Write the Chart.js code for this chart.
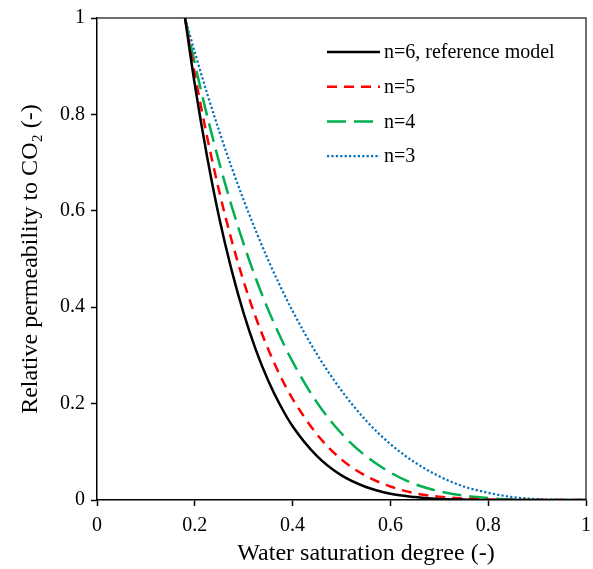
<!DOCTYPE html>
<html>
<head>
<meta charset="utf-8">
<script src="https://cdn.jsdelivr.net/npm/chart.js@4"></script>
<style>
  html, body { margin: 0; padding: 0; background: #ffffff; }
  #wrap { width: 593px; height: 569px; }
</style>
</head>
<body>
<div id="wrap"><canvas id="krChart" width="593" height="569"></canvas></div>
<script>
// Water saturation degree (-)
const saturation = [0.18, 0.2, 0.225, 0.25, 0.275, 0.3, 0.325, 0.35, 0.375, 0.4, 0.45, 0.5, 0.55, 0.6, 0.65, 0.7, 0.75, 0.8, 0.85, 0.9, 0.95, 1.0];

// Relative permeability to CO2
const krN6 = [1, 0.862, 0.713, 0.585, 0.478, 0.387, 0.311, 0.248, 0.196, 0.153, 0.091, 0.051, 0.027, 0.013, 0.006, 0.002, 0.001, 0, 0, 0, 0, 0];
const krN5 = [1, 0.884, 0.754, 0.640, 0.540, 0.453, 0.378, 0.313, 0.257, 0.210, 0.136, 0.084, 0.050, 0.028, 0.014, 0.007, 0.003, 0.001, 0, 0, 0, 0];
const krN4 = [1, 0.906, 0.798, 0.700, 0.611, 0.531, 0.459, 0.395, 0.338, 0.287, 0.202, 0.138, 0.091, 0.057, 0.033, 0.018, 0.009, 0.004, 0.001, 0, 0, 0];
const krN3 = [1, 0.929, 0.844, 0.765, 0.691, 0.622, 0.558, 0.498, 0.443, 0.392, 0.302, 0.227, 0.165, 0.116, 0.078, 0.049, 0.028, 0.015, 0.006, 0.002, 0, 0];

const seriesLabels = ['n=6, reference model', 'n=5', 'n=4', 'n=3'];
const xTicks = [0, 0.2, 0.4, 0.6, 0.8, 1];
const yTicks = [0, 0.2, 0.4, 0.6, 0.8, 1];
const xTitle = 'Water saturation degree (-)';
const yTitle = 'Relative permeability to CO₂ (-)';

const serif = "'Liberation Serif', 'Times New Roman', serif";
const toPoints = (ys) => saturation.map((x, i) => ({ x: x, y: ys[i] }));

// Legend drawn inside the plot area, top right
const insideLegend = {
    id: 'insideLegend',
    afterDatasetsDraw(chart) {
        const ctx = chart.ctx;
        const area = chart.chartArea;
        const x0 = area.left + 230;
        const x1 = x0 + 53;
        ctx.save();
        ctx.font = '20px ' + serif;
        ctx.textBaseline = 'middle';
        ctx.fillStyle = '#000000';
        chart.data.datasets.forEach((ds, i) => {
            const y = area.top + 34 + i * 34.7;
            ctx.beginPath();
            ctx.strokeStyle = ds.borderColor;
            ctx.lineWidth = ds.borderWidth;
            ctx.setLineDash(ds.borderDash || []);
            ctx.moveTo(x0, y);
            ctx.lineTo(x1, y);
            ctx.stroke();
            ctx.setLineDash([]);
            ctx.fillText(ds.label, x1 + 4, y + 1);
        });
        ctx.restore();
    }
};

// Top and right frame of the plot area, plus the x title (sits right of centre in the original)
const plotFrame = {
    id: 'plotFrame',
    beforeDatasetsDraw(chart) {
        const ctx = chart.ctx;
        const a = chart.chartArea;
        ctx.save();
        ctx.strokeStyle = '#404040';
        ctx.lineWidth = 1.5;
        ctx.beginPath();
        ctx.moveTo(a.left, a.top);
        ctx.lineTo(a.right, a.top);
        ctx.lineTo(a.right, a.bottom);
        ctx.stroke();

        ctx.fillStyle = '#000000';
        ctx.font = '24px ' + serif;
        ctx.textAlign = 'center';
        ctx.textBaseline = 'middle';
        ctx.fillText(xTitle, a.left + 269, a.bottom + 54);
        ctx.restore();
    }
};

new Chart(document.getElementById('krChart'), {
    type: 'line',
    data: {
        datasets: [
            {
                label: seriesLabels[0],
                data: toPoints(krN6),
                borderColor: '#000000',
                borderWidth: 2.5,
            },
            {
                label: seriesLabels[1],
                data: toPoints(krN5),
                borderColor: '#ff0000',
                borderWidth: 2.5,
                borderDash: [10, 7],
            },
            {
                label: seriesLabels[2],
                data: toPoints(krN4),
                borderColor: '#00b050',
                borderWidth: 2.5,
                borderDash: [19, 8],
            },
            {
                label: seriesLabels[3],
                data: toPoints(krN3),
                borderColor: '#0070c0',
                borderWidth: 2.2,
                borderDash: [2.2, 2.2],
            },
        ]
    },
    options: {
        responsive: false,
        animation: false,
        events: [],
        layout: { padding: { left: 0, top: 18, right: 7, bottom: 0 } },
        elements: {
            point: { radius: 0 },
            line: { cubicInterpolationMode: 'monotone', fill: false }
        },
        plugins: {
            legend: { display: false },
            tooltip: { enabled: false }
        },
        scales: {
            x: {
                type: 'linear',
                min: 0,
                max: 1,
                afterBuildTicks: (scale) => { scale.ticks = xTicks.map(v => ({ value: v })); },
                afterFit: (scale) => {
                    scale.height = 69;
                    scale.paddingLeft = 0;
                    scale.paddingRight = 0;
                },
                grid: { drawOnChartArea: false, tickLength: 6, tickColor: '#000000', tickWidth: 1.5 },
                border: { color: '#000000', width: 1.5 },
                ticks: {
                    color: '#000000',
                    font: { family: serif, size: 20 },
                    padding: 8,
                    maxRotation: 0,
                    callback: (v) => String(v)
                },
                title: { display: false }
            },
            y: {
                type: 'linear',
                min: 0,
                max: 1,
                afterBuildTicks: (scale) => { scale.ticks = yTicks.map(v => ({ value: v })); },
                afterFit: (scale) => {
                    scale.width = 97;
                    scale.paddingTop = 0;
                    scale.paddingBottom = 0;
                },
                grid: { drawOnChartArea: false, tickLength: 6, tickColor: '#000000', tickWidth: 1.5 },
                border: { color: '#000000', width: 1.5 },
                ticks: {
                    color: '#000000',
                    font: { family: serif, size: 20 },
                    padding: 6,
                    callback: (v) => String(v)
                },
                title: {
                    display: true,
                    text: yTitle,
                    color: '#000000',
                    font: { family: serif, size: 24 },
                    padding: 16
                }
            }
        }
    },
    plugins: [plotFrame, insideLegend]
});
</script>
</body>
</html>
